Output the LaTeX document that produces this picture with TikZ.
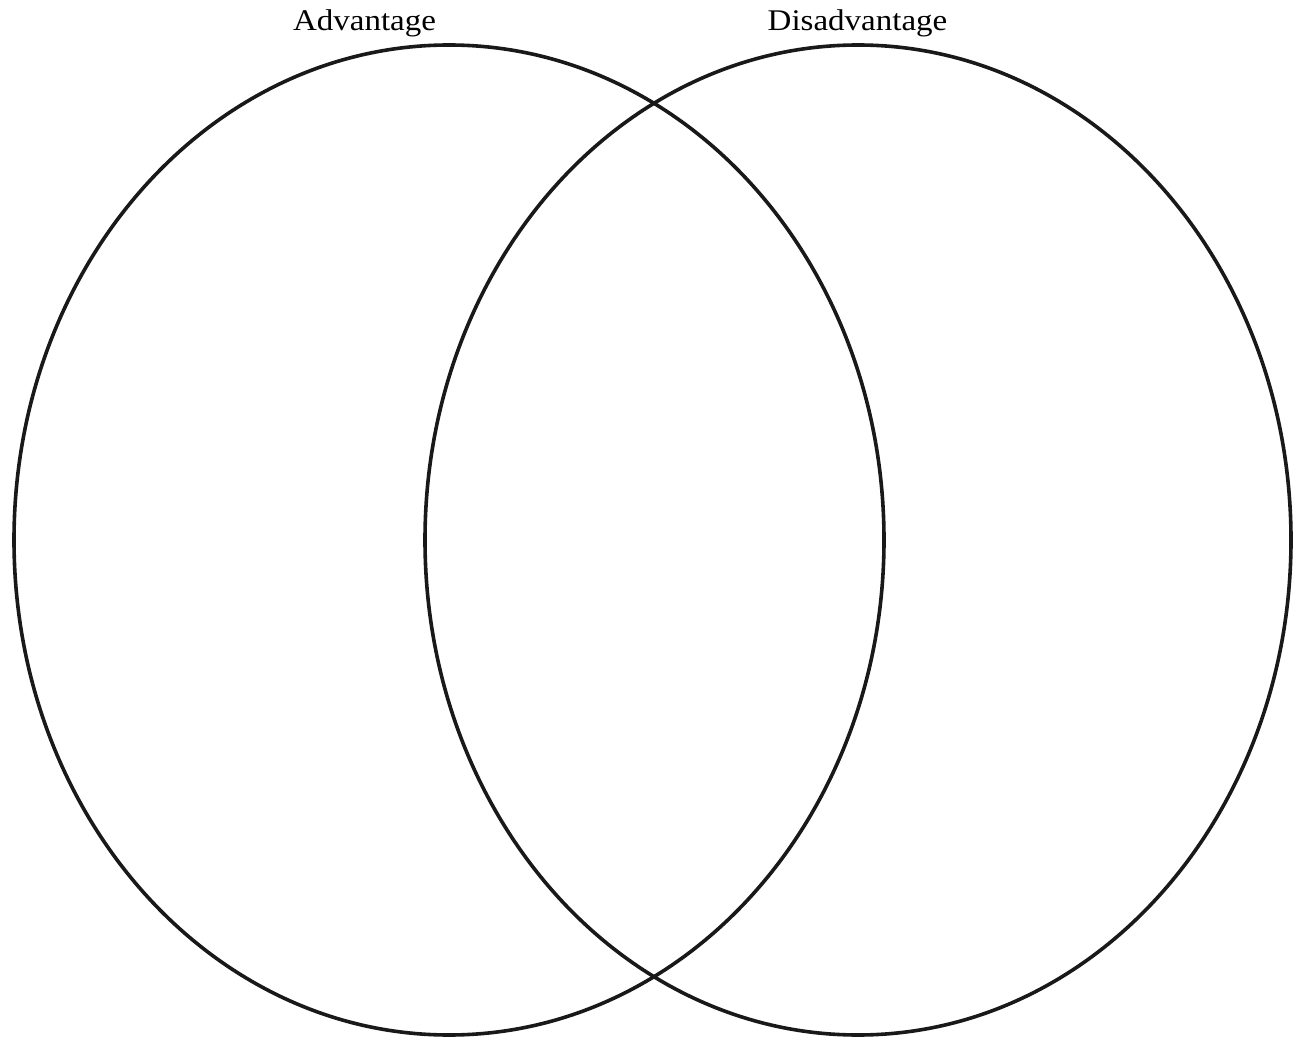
\documentclass[tikz,border=0pt]{standalone}
\usepackage{fontspec}
\setmainfont{Liberation Serif}[FakeStretch=1.1]
\usetikzlibrary{shapes.geometric}
\begin{document}
\begin{tikzpicture}[x=1pt,y=-1pt,
  venn/.style={ellipse, draw=black!90, line width=3.6pt, inner sep=0pt},
  lbl/.style={anchor=base, inner sep=0pt, font=\fontsize{30}{34}\selectfont}]
\useasboundingbox (0,0) rectangle (1301,1040);
\node[venn, minimum width=870pt, minimum height=990pt] (left) at (449,540) {};
\node[venn, minimum width=866pt, minimum height=990pt] (right) at (858,540) {};
\node[lbl] (adv) at (364.5,31) {Advantage};
\node[lbl] (dis) at (857.5,31) {Disadvantage};
\end{tikzpicture}
\end{document}
